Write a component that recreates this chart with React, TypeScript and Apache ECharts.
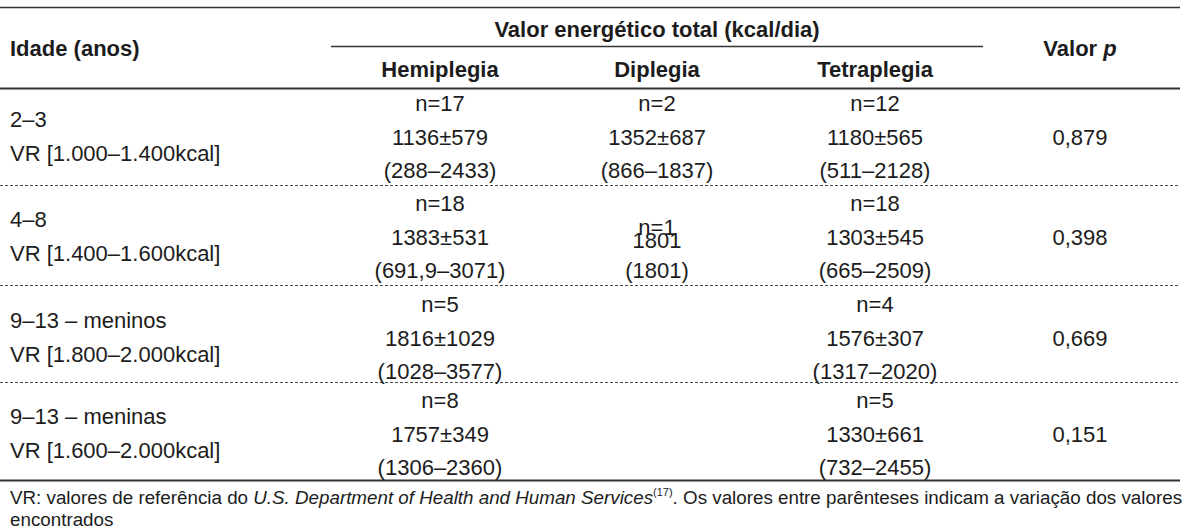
import React, { useEffect, useRef } from "react";
import * as echarts from "echarts";

// ---- data ----
const ageLabels = ["2–3", "4–8", "9–13 – meninos", "9–13 – meninas"];
const refRanges = [
  "VR [1.000–1.400kcal]",
  "VR [1.400–1.600kcal]",
  "VR [1.800–2.000kcal]",
  "VR [1.600–2.000kcal]",
];
const groups = ["Hemiplegia", "Diplegia", "Tetraplegia"];
const hemiN = [17, 18, 5, 8];
const hemiMean = [1136, 1383, 1816, 1757];
const hemiSD = [579, 531, 1029, 349];
const hemiRange = ["288–2433", "691,9–3071", "1028–3577", "1306–2360"];
const diN = [2, 1, null, null];
const diMean = [1352, 1801, null, null];
const diSD = [687, null, null, null];
const diRange = ["866–1837", "1801", null, null];
const tetraN = [12, 18, 4, 5];
const tetraMean = [1180, 1303, 1576, 1330];
const tetraSD = [565, 545, 307, 661];
const tetraRange = ["511–2128", "665–2509", "1317–2020", "732–2455"];
const pValues = ["0,879", "0,398", "0,669", "0,151"];

const headerTitle = "Valor energético total (kcal/dia)";
const firstColTitle = "Idade (anos)";

const FONT = "'Liberation Sans', Arial, sans-serif";
const TEXT = "#1c1c1c";

export default function App() {
  const ref = useRef<HTMLDivElement>(null);
  useEffect(() => {
    if (!ref.current) return;
    const chart = echarts.init(ref.current, null, { renderer: "svg" });
    const fs = 22;
    const els: any[] = [];
    const txt = (x: number, y: number, s: string, opts: any = {}) =>
      els.push({
        type: "text",
        x,
        y,
        style: {
          text: s,
          fill: TEXT,
          font: `${opts.bold ? "bold " : ""}${opts.size || fs}px ${FONT}`,
          textAlign: opts.align || "center",
          textVerticalAlign: "middle",
        },
      });
    const line = (x1: number, y1: number, x2: number, y2: number, w: number, dash?: number[]) =>
      els.push({
        type: "line",
        shape: { x1, y1, x2, y2 },
        style: { stroke: dash ? "#4a4a4a" : "#333", lineWidth: w, lineDash: dash || null },
      });

    const colX = [440, 657, 875];
    const pX = 1080;
    const L = 0, R = 1180;

    // rules
    line(L, 7.5, R, 7.5, 1.5);
    line(331, 46.5, 983, 46.5, 1.5);
    line(L, 88.5, R, 88.5, 2);
    line(L, 185.5, R, 185.5, 1, [3, 2]);
    line(L, 285.5, R, 285.5, 1, [3, 2]);
    line(L, 382.5, R, 382.5, 1, [3, 2]);
    line(L, 480.5, R, 480.5, 2);

    // header
    txt(10, 48, firstColTitle, { bold: true, align: "left" });
    txt(657, 29, headerTitle, { bold: true });
    groups.forEach((g, i) => txt(colX[i], 69, g, { bold: true }));
    els.push({
      type: "text",
      x: 1080,
      y: 48,
      style: {
        text: "{b|Valor }{i|p}",
        textAlign: "center",
        textVerticalAlign: "middle",
        rich: {
          b: { font: `bold ${fs}px ${FONT}`, fill: TEXT },
          i: { font: `italic bold ${fs}px ${FONT}`, fill: TEXT },
        },
      },
    });

    const mids = [137, 237, 338, 434];
    const cols = [
      [hemiN, hemiMean, hemiSD, hemiRange],
      [diN, diMean, diSD, diRange],
      [tetraN, tetraMean, tetraSD, tetraRange],
    ] as any[];
    mids.forEach((m, r) => {
      txt(10, m - 18, ageLabels[r], { align: "left" });
      txt(10, m + 16, refRanges[r], { align: "left" });
      cols.forEach((c, ci) => {
        const [ns, means, sds, ranges] = c;
        if (ns[r] == null) return;
        if (sds[r] == null) {
          txt(colX[ci], m - 10, `n=${ns[r]}`);
          txt(colX[ci], m + 3, `${means[r]}`);
        } else {
          txt(colX[ci], m - 34, `n=${ns[r]}`);
          txt(colX[ci], m, `${means[r]}±${sds[r]}`);
        }
        txt(colX[ci], m + 33, `(${ranges[r]})`);
      });
      txt(pX, m, pValues[r]);
    });

    // footnote
    const ffs = 18.8;
    els.push({
      type: "text",
      x: 10,
      y: 497,
      style: {
        text:
          "{n|VR: valores de referência do }{i|U.S. Department of Health and Human Services}{s|(17)}{n|. Os valores entre parênteses indicam a variação dos valores}",
        textAlign: "left",
        textVerticalAlign: "middle",
        rich: {
          n: { font: `${ffs}px ${FONT}`, fill: TEXT, height: 22 },
          i: { font: `italic ${ffs}px ${FONT}`, fill: TEXT, height: 22 },
          s: { font: `11px ${FONT}`, fill: TEXT, verticalAlign: "top", height: 22, padding: [0, 0, 10, 0] },
        },
      },
    });
    txt(10, 519, "encontrados", { align: "left", size: ffs });

    chart.setOption({ animation: false, graphic: { elements: els } });
    return () => chart.dispose();
  }, []);
  return (
    <div
      ref={ref}
      style={{ position: "fixed", left: 0, top: 0, width: 1200, height: 530, background: "#fff" }}
    />
  );
}
